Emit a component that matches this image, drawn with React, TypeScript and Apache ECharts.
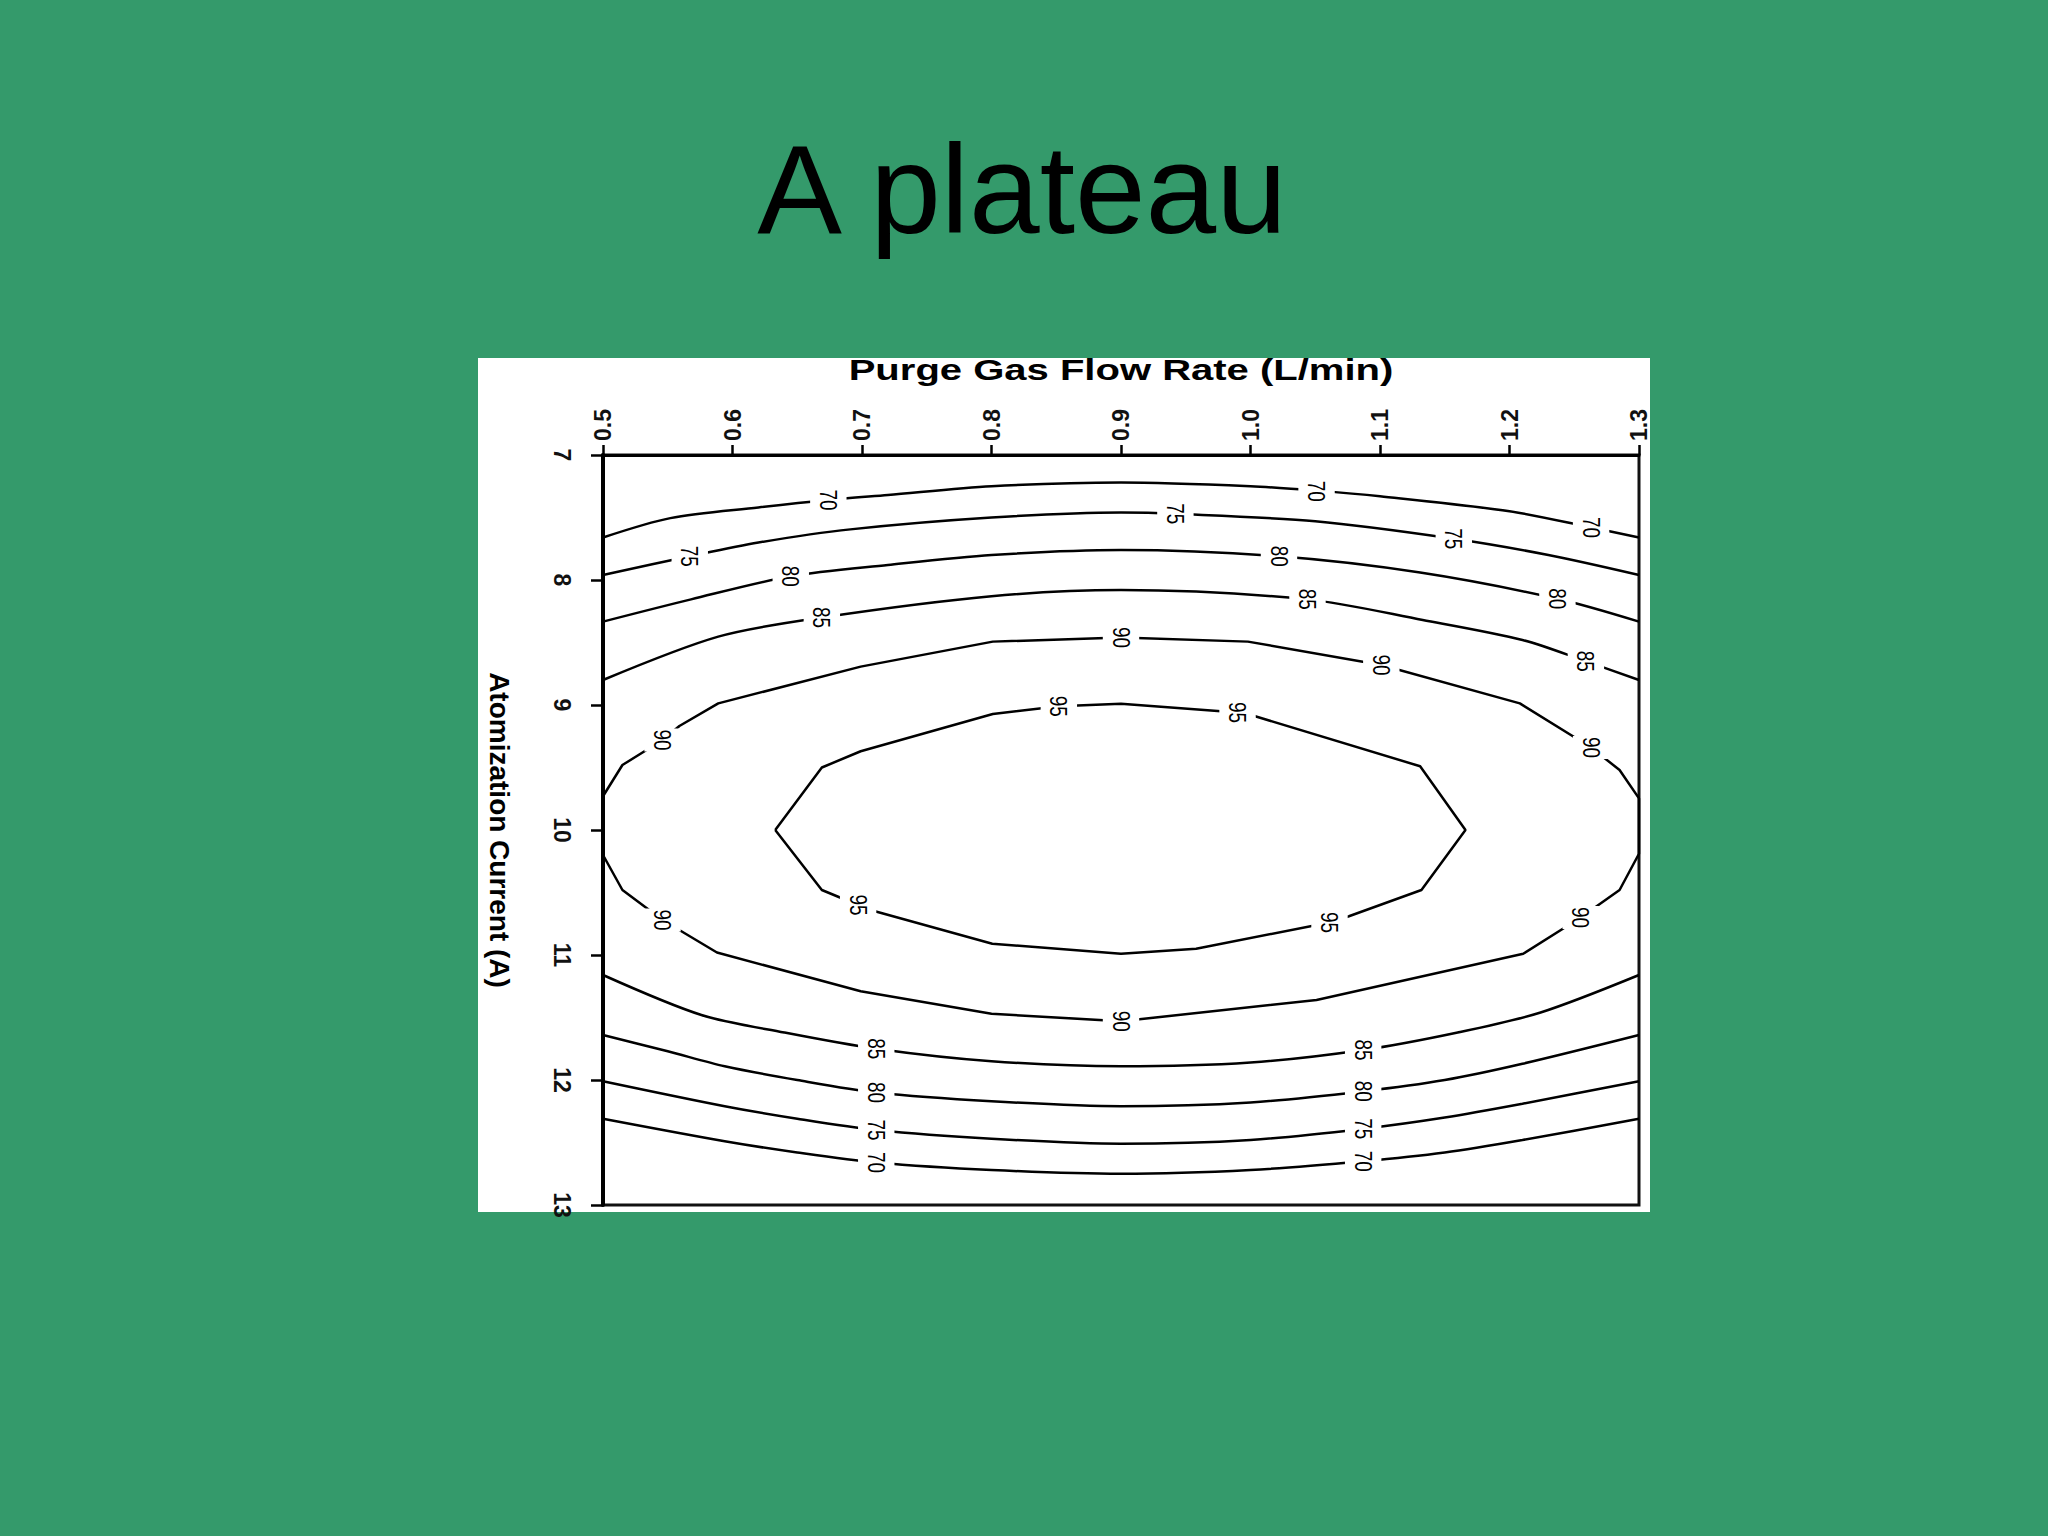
import React, { useEffect, useRef } from "react";
import * as echarts from "echarts";

// ---- axis tick labels ----
const xTickLabels = ["0.5", "0.6", "0.7", "0.8", "0.9", "1.0", "1.1", "1.2", "1.3"];
const yTickLabels = ["7", "8", "9", "10", "11", "12", "13"];

// ---- contour lines: [flow rate (L/min), atomization current (A)] ----
const contour70Top = [[0.5, 7.66], [0.552, 7.505], [0.62, 7.42], [0.674, 7.36], [0.72, 7.32], [0.8, 7.25], [0.9, 7.22], [1.0, 7.25], [1.051, 7.285], [1.1, 7.33], [1.2, 7.45], [1.263, 7.58], [1.3, 7.66]];
const contour75Top = [[0.5, 7.96], [0.567, 7.81], [0.62, 7.7], [0.691, 7.595], [0.8, 7.5], [0.9, 7.46], [0.942, 7.47], [1.05, 7.53], [1.157, 7.67], [1.23, 7.8], [1.3, 7.96]];
const contour80Top = [[0.5, 8.333], [0.568, 8.155], [0.645, 7.97], [0.72, 7.88], [0.8, 7.8], [0.9, 7.76], [1.022, 7.81], [1.131, 7.94], [1.237, 8.15], [1.3, 8.333]];
const contour85Top = [[0.5, 8.8], [0.589, 8.453], [0.669, 8.3], [0.8, 8.13], [0.9, 8.08], [1.044, 8.155], [1.133, 8.32], [1.21, 8.48], [1.259, 8.65], [1.3, 8.8]];
const contour90 = [[0.5, 9.73], [0.515, 9.48], [0.546, 9.28], [0.559, 9.168], [0.589, 8.987], [0.699, 8.693], [0.801, 8.493], [0.9, 8.46], [0.998, 8.493], [1.101, 8.68], [1.208, 8.987], [1.263, 9.34], [1.285, 9.52], [1.3, 9.747], [1.3, 10.19], [1.285, 10.48], [1.255, 10.7], [1.2106, 10.99], [1.051, 11.36], [0.9, 11.53], [0.8, 11.47], [0.699, 11.29], [0.588, 10.98], [0.546, 10.72], [0.515, 10.48], [0.5, 10.2], [0.5, 9.73]];
const contour95 = [[0.633, 10.0], [0.669, 9.5], [0.699, 9.37], [0.801, 9.072], [0.852, 9.01], [0.9, 8.99], [0.99, 9.06], [1.003, 9.088], [1.131, 9.49], [1.166, 10.0], [1.132, 10.48], [1.076, 10.69], [1.061, 10.74], [0.958, 10.95], [0.9, 10.99], [0.8006, 10.91], [0.71, 10.65], [0.697, 10.6], [0.669, 10.48], [0.633, 10.0]];
const contour85Bottom = [[0.5, 11.16], [0.576, 11.48], [0.64, 11.62], [0.711, 11.75], [0.8, 11.85], [0.9, 11.89], [1.0, 11.86], [1.087, 11.76], [1.16, 11.62], [1.224, 11.46], [1.3, 11.16]];
const contour80Bottom = [[0.5, 11.64], [0.55, 11.77], [0.594, 11.89], [0.65, 12.0], [0.711, 12.1], [0.8, 12.17], [0.9, 12.21], [1.0, 12.18], [1.087, 12.09], [1.15, 12.0], [1.21, 11.87], [1.3, 11.64]];
const contour75Bottom = [[0.5, 12.01], [0.594, 12.21], [0.65, 12.31], [0.711, 12.4], [0.8, 12.47], [0.9, 12.51], [1.0, 12.48], [1.087, 12.39], [1.15, 12.3], [1.21, 12.19], [1.3, 12.01]];
const contour70Bottom = [[0.5, 12.31], [0.594, 12.49], [0.65, 12.58], [0.711, 12.66], [0.8, 12.72], [0.9, 12.75], [1.0, 12.72], [1.087, 12.65], [1.15, 12.58], [1.21, 12.48], [1.3, 12.31]];

// ---- contour labels: [flow rate, current, level] ----
const contourLabels = [
  [0.674, 7.36, 70], [1.051, 7.29, 70], [1.263, 7.58, 70],
  [0.567, 7.81, 75], [0.942, 7.47, 75], [1.157, 7.67, 75],
  [0.645, 7.97, 80], [1.022, 7.81, 80], [1.237, 8.15, 80],
  [0.669, 8.3, 85], [1.044, 8.155, 85], [1.259, 8.65, 85],
  [0.546, 9.28, 90], [0.9, 8.46, 90], [1.101, 8.68, 90], [1.263, 9.34, 90],
  [0.852, 9.01, 95], [0.99, 9.06, 95],
  [0.697, 10.6, 95], [1.061, 10.74, 95],
  [0.546, 10.72, 90], [0.9, 11.53, 90], [1.255, 10.7, 90],
  [0.711, 11.75, 85], [1.087, 11.76, 85],
  [0.711, 12.1, 80], [1.087, 12.09, 80],
  [0.711, 12.4, 75], [1.087, 12.39, 75],
  [0.711, 12.66, 70], [1.087, 12.65, 70],
];

const smoothLines = [
  { name: "70 (upper)", data: contour70Top },
  { name: "75 (upper)", data: contour75Top },
  { name: "80 (upper)", data: contour80Top },
  { name: "85 (upper)", data: contour85Top },
  { name: "85 (lower)", data: contour85Bottom },
  { name: "80 (lower)", data: contour80Bottom },
  { name: "75 (lower)", data: contour75Bottom },
  { name: "70 (lower)", data: contour70Bottom },
];
const angularLines = [
  { name: "90", data: contour90 },
  { name: "95", data: contour95 },
];

const GREEN = "#349A6B";
const NARROW = "'Liberation Sans Narrow', 'Liberation Sans', Arial, sans-serif";

export default function App() {
  const ref = useRef<HTMLDivElement>(null);

  useEffect(() => {
    if (!ref.current) return;
    const chart = echarts.init(ref.current, null, { renderer: "svg" });

    const lineSeries: any[] = [
      ...smoothLines.map((l) => ({
        type: "line",
        name: l.name,
        data: l.data,
        showSymbol: false,
        symbol: "none",
        smooth: 0.3,
        silent: true,
        z: 2,
        lineStyle: { color: "#000", width: 2.5 },
      })),
      ...angularLines.map((l) => ({
        type: "line",
        name: l.name,
        data: l.data,
        showSymbol: false,
        symbol: "none",
        smooth: false,
        silent: true,
        z: 2,
        lineStyle: { color: "#000", width: 2.5 },
      })),
    ];

    const labelSeries = {
      type: "custom",
      name: "contour labels",
      coordinateSystem: "cartesian2d",
      data: contourLabels,
      encode: { x: 0, y: 1 },
      silent: true,
      z: 5,
      renderItem: (params: any, api: any) => {
        const p = api.coord([api.value(0), api.value(1)]);
        return {
          type: "text",
          x: p[0],
          y: p[1],
          rotation: -Math.PI / 2,
          scaleX: 1,
          scaleY: 1.3,
          style: {
            text: String(api.value(2)),
            fill: "#000",
            fontSize: 19,
            lineHeight: 20,
            fontFamily: "'Liberation Sans', Arial, sans-serif",
            align: "center",
            verticalAlign: "middle",
            backgroundColor: "#fff",
            padding: [4, 1],
          },
        };
      },
    };

    const option: any = {
      animation: false,
      backgroundColor: GREEN,
      grid: {
        left: 603,
        top: 455,
        width: 1036,
        height: 750,
        show: true,
        backgroundColor: "#fff",
        borderColor: "#111",
        borderWidth: 3,
        containLabel: false,
      },
      xAxis: {
        type: "value",
        position: "top",
        min: 0.5,
        max: 1.3,
        interval: 0.1,
        axisLine: { show: true, onZero: false, lineStyle: { color: "#000", width: 3 } },
        axisTick: { show: true, length: 10, lineStyle: { color: "#000", width: 2.5 } },
        axisLabel: {
          rotate: -90,
          margin: 14,
          fontSize: 23,
          fontWeight: "bold",
          fontFamily: NARROW,
          color: "#111",
          showMinLabel: true,
          showMaxLabel: true,
          formatter: (v: number) => xTickLabels[Math.round((v - 0.5) * 10)] ?? v.toFixed(1),
        },
        splitLine: { show: false },
      },
      yAxis: {
        type: "value",
        inverse: true,
        position: "left",
        min: 7,
        max: 13,
        interval: 1,
        name: "Atomization Current (A)",
        nameLocation: "middle",
        nameRotate: -90,
        nameGap: 90,
        nameTextStyle: {
          fontSize: 28,
          fontWeight: "bold",
          fontFamily: "'Liberation Sans', Arial, sans-serif",
          color: "#000",
        },
        axisLine: { show: true, onZero: false, lineStyle: { color: "#000", width: 4 } },
        axisTick: { show: true, length: 12, lineStyle: { color: "#000", width: 2.5 } },
        axisLabel: {
          rotate: -90,
          margin: 30,
          fontSize: 23,
          fontWeight: "bold",
          fontFamily: NARROW,
          color: "#111",
          showMinLabel: true,
          showMaxLabel: true,
          formatter: (v: number) => yTickLabels[Math.round(v - 7)] ?? String(v),
        },
        splitLine: { show: false },
      },
      graphic: [
        {
          type: "rect",
          z: -10,
          silent: true,
          shape: { x: 478, y: 358, width: 1172, height: 854 },
          style: { fill: "#fff" },
        },
        {
          type: "text",
          x: 1022,
          y: 189,
          silent: true,
          style: {
            text: "A plateau",
            fontSize: 127,
            fontFamily: "'Liberation Sans', Arial, sans-serif",
            fill: "#000",
            align: "center",
            verticalAlign: "middle",
          },
        },
        {
          type: "text",
          x: 1121,
          y: 370,
          scaleX: 1.38,
          silent: true,
          style: {
            text: "Purge Gas Flow Rate (L/min)",
            fontSize: 29,
            fontWeight: "bold",
            fontFamily: "'Liberation Sans', Arial, sans-serif",
            fill: "#000",
            align: "center",
            verticalAlign: "middle",
          },
        },
      ],
      series: [...lineSeries, labelSeries],
    };

    chart.setOption(option);
    return () => chart.dispose();
  }, []);

  return (
    <div
      ref={ref}
      style={{ position: "fixed", left: 0, top: 0, width: 2048, height: 1536 }}
    />
  );
}
